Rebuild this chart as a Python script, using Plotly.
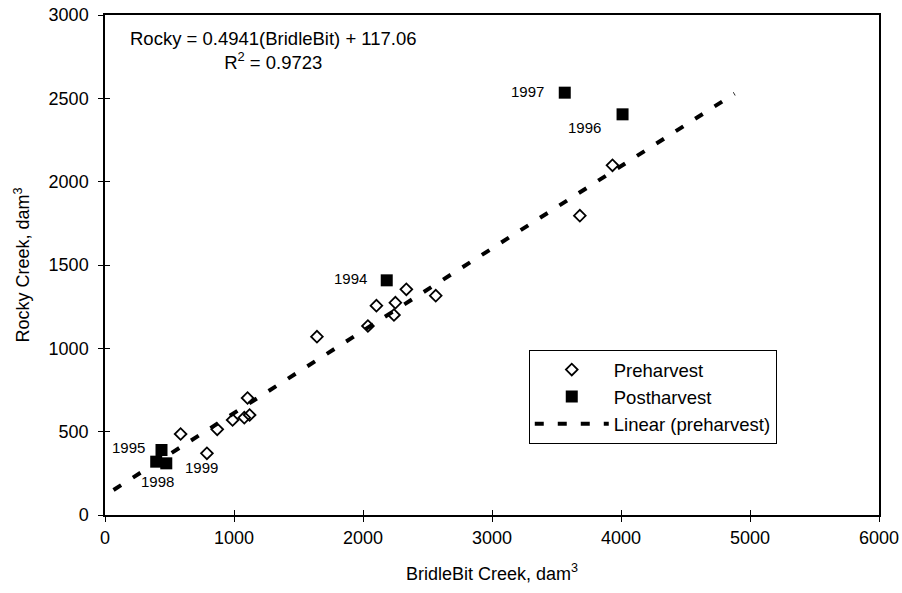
import plotly.graph_objects as go

# Preharvest (diamonds)
pre_x = [586, 790, 870, 989, 1080, 1121, 1105, 1643, 2038, 2104, 2240, 2251, 2336, 2564, 3934, 3681]
pre_y = [486, 370, 514, 570, 584, 600, 702, 1070, 1134, 1256, 1200, 1274, 1354, 1316, 2098, 1796]

# Postharvest (squares)
post_x = [438, 397, 475, 2184, 3564, 4012]
post_y = [390, 320, 310, 1408, 2534, 2404]

# Linear trend (preharvest) endpoints
trend_x = [66, 4880]
trend_y = [150, 2528]

x_ticks = [0, 1000, 2000, 3000, 4000, 5000, 6000]
y_ticks = [0, 500, 1000, 1500, 2000, 2500, 3000]

year_labels = ["1997", "1996", "1994", "1995", "1998", "1999"]

FONT = "Liberation Sans, Arial, sans-serif"

fig = go.Figure()
fig.add_trace(go.Scatter(
    x=pre_x, y=pre_y, mode="markers", name="Preharvest",
    marker=dict(symbol="diamond-open", size=9, color="black", line=dict(width=1.8, color="black")),
))
fig.add_trace(go.Scatter(
    x=post_x, y=post_y, mode="markers", name="Postharvest",
    marker=dict(symbol="square", size=12, color="black"),
))
fig.add_trace(go.Scatter(
    x=trend_x, y=trend_y, mode="lines", name="Linear (preharvest)",
    line=dict(color="black", width=4, dash="9px,14px"),
))

# invisible trace to activate overlay axes (inside ticks)
fig.add_trace(go.Scatter(x=[0], y=[0], xaxis="x2", yaxis="y2", mode="markers",
                         marker=dict(opacity=0), showlegend=False, hoverinfo="skip"))

fig.update_layout(
    width=902, height=593,
    margin=dict(l=105, r=23, t=15, b=78),
    paper_bgcolor="white", plot_bgcolor="white",
    font=dict(family=FONT, size=18, color="black"),
    showlegend=True,
    legend=dict(
        x=0.5475, y=0.33, xanchor="left", yanchor="top",
        bordercolor="black", borderwidth=1, bgcolor="white",
        font=dict(size=18.5), itemwidth=74, tracegroupgap=0,
    ),
    xaxis=dict(
        range=[0, 6000], tickvals=x_ticks, showgrid=False, zeroline=False,
        showline=True, linecolor="black", linewidth=1.5, mirror=True,
        ticks="outside", ticklen=5, tickcolor="black", tickwidth=1,
        automargin=False, ticklabelstandoff=1,
        title=dict(text="BridleBit Creek, dam<sup>3</sup>", font=dict(size=18), standoff=20),
        tickfont=dict(size=18),
    ),
    yaxis=dict(
        range=[0, 3000], tickvals=y_ticks, showgrid=False, zeroline=False,
        showline=True, linecolor="black", linewidth=1.5, mirror=True,
        ticks="outside", ticklen=5, tickcolor="black", tickwidth=1,
        automargin=False, ticklabelstandoff=6,
        title=dict(text="Rocky Creek, dam<sup>3</sup>", font=dict(size=18), standoff=14),
        tickfont=dict(size=18),
    ),
    xaxis2=dict(range=[0, 6000], tickvals=x_ticks, overlaying="x", side="bottom",
                showticklabels=False, ticks="inside", ticklen=5, tickcolor="black",
                showgrid=False, zeroline=False, showline=False, automargin=False),
    yaxis2=dict(range=[0, 3000], tickvals=y_ticks, overlaying="y", side="left",
                showticklabels=False, ticks="inside", ticklen=5, tickcolor="black",
                showgrid=False, zeroline=False, showline=False, automargin=False),
)

ann_font = dict(family=FONT, size=15, color="black")
label_pos = [(3277, 2544), (3720, 2328), (1904, 1422), (182, 408), (407, 204), (746, 284)]
for t, (ax, ay) in zip(year_labels, label_pos):
    fig.add_annotation(x=ax, y=ay, text=t, showarrow=False, font=ann_font,
                       xanchor="center", yanchor="middle")

fig.add_annotation(
    xref="paper", yref="paper", x=0.218, y=0.928,
    text="Rocky = 0.4941(BridleBit) + 117.06<br>R<sup>2</sup> = 0.9723",
    showarrow=False, align="center", xanchor="center", yanchor="middle",
    font=dict(family=FONT, size=18.5, color="black"),
)

fig.write_html(
    "out.html",
    config={"displayModeBar": False},
    post_script="document.body.style.margin='0';document.body.style.overflow='hidden';",
)
